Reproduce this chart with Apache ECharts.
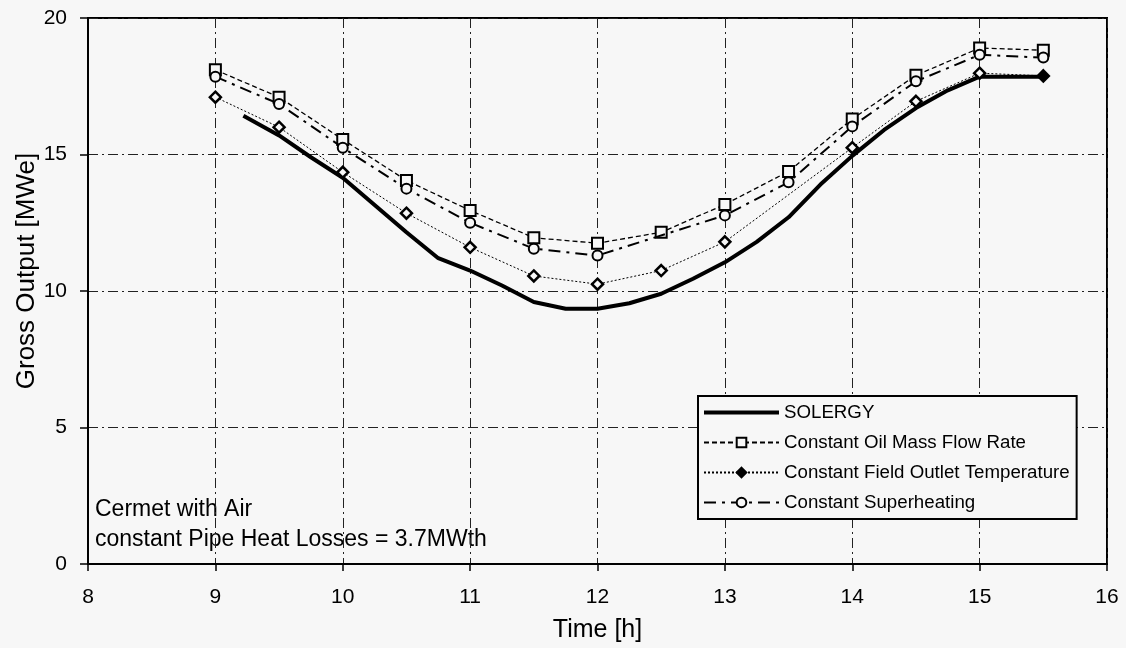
<!DOCTYPE html>
<html>
<head>
<meta charset="utf-8">
<script src="https://cdn.jsdelivr.net/npm/echarts@6/dist/echarts.min.js"></script>
<style>
  html, body { margin: 0; padding: 0; background: #f7f7f7; }
  #chart { width: 1126px; height: 648px; }
</style>
</head>
<body>
<div id="chart"></div>
<script>
  // values, [time h, gross output MWe]
  var solergy = [
    [9.22, 16.42], [9.5, 15.7], [9.75, 14.9], [10, 14.15], [10.25, 13.15], [10.5, 12.15],
    [10.75, 11.2], [11, 10.75], [11.25, 10.2], [11.5, 9.6], [11.75, 9.35], [12, 9.35],
    [12.25, 9.55], [12.5, 9.9], [12.75, 10.45], [13, 11.05], [13.25, 11.8], [13.5, 12.7],
    [13.75, 13.9], [14, 14.95], [14.25, 15.9], [14.5, 16.7], [14.75, 17.35], [15, 17.85],
    [15.5, 17.85]
  ];
  var oilMassFlow = [
    [9, 18.1], [9.5, 17.1], [10, 15.55], [10.5, 14.05], [11, 12.95], [11.5, 11.95],
    [12, 11.75], [12.5, 12.15], [13, 13.17], [13.5, 14.38], [14, 16.3], [14.5, 17.9],
    [15, 18.9], [15.5, 18.82]
  ];
  var fieldOutletTemp = [
    [9, 17.1], [9.5, 16.0], [10, 14.35], [10.5, 12.85], [11, 11.6], [11.5, 10.55],
    [12, 10.25], [12.5, 10.75], [13, 11.8], [14, 15.25], [14.5, 16.95], [15, 17.98],
    [15.5, 17.88]
  ];
  var superheating = [
    [9, 17.85], [9.5, 16.85], [10, 15.25], [10.5, 13.75], [11, 12.5], [11.5, 11.55],
    [12, 11.3], [13, 12.77], [13.5, 13.98], [14, 16.03], [14.5, 17.68], [15, 18.65],
    [15.5, 18.55]
  ];
  var seriesNames = ['SOLERGY', 'Constant Oil Mass Flow Rate', 'Constant Field Outlet Temperature', 'Constant Superheating'];
  var noteLines = ['Cermet with Air', 'constant Pipe Heat Losses = 3.7MWth'];

  var bg = '#f7f7f7';
  var font = '"Liberation Sans", Arial, sans-serif';
  var gridDash = { color: '#222', width: 1, type: [10, 4, 2, 4] };

  // last diamond is drawn filled
  var fieldData = fieldOutletTemp.map(function (p, i) {
    if (i === fieldOutletTemp.length - 1) {
      return { value: p, itemStyle: { color: '#000' } };
    }
    return p;
  });

  var myChart = echarts.init(document.getElementById('chart'));
  myChart.setOption({
    backgroundColor: bg,
    animation: false,
    textStyle: { fontFamily: font },
    grid: {
      left: 88, right: 19, top: 18, bottom: 84,
      show: true, borderColor: '#000', borderWidth: 2
    },
    xAxis: {
      type: 'value',
      min: 8, max: 16, interval: 1,
      name: 'Time [h]',
      nameLocation: 'middle',
      nameGap: 54,
      nameTextStyle: { color: '#000', fontSize: 25, fontFamily: font },
      axisLine: { lineStyle: { color: '#000', width: 2 } },
      axisTick: { show: true, length: 7, lineStyle: { color: '#000', width: 1.5 } },
      axisLabel: { color: '#000', fontSize: 21, margin: 23, fontFamily: font },
      splitLine: { show: true, lineStyle: gridDash }
    },
    yAxis: {
      type: 'value',
      min: 0, max: 20, interval: 5,
      axisLine: { show: true, lineStyle: { color: '#000', width: 2 } },
      axisTick: { show: true, length: 8, lineStyle: { color: '#000', width: 1.5 } },
      axisLabel: { color: '#000', fontSize: 21, margin: 21, fontFamily: font },
      splitLine: { show: true, lineStyle: gridDash }
    },
    legend: {
      orient: 'vertical',
      left: 698, top: 396,
      padding: [7, 7, 7, 5],
      backgroundColor: bg,
      borderColor: '#000',
      borderWidth: 2,
      itemWidth: 75,
      itemHeight: 12,
      itemGap: 11,
      textStyle: { color: '#000', fontSize: 18.7, fontFamily: font },
      data: [
        // thick bar for SOLERGY; the outer moves keep the path's box 75x12
        { name: seriesNames[0], icon: 'path://M0,0L0,0M0,4L75,4L75,8L0,8ZM75,12L75,12' },
        { name: seriesNames[1] },
        { name: seriesNames[2], itemStyle: { color: '#000' } },
        { name: seriesNames[3] }
      ]
    },
    graphic: [
      {
        type: 'text', x: 27, y: 271, rotation: Math.PI / 2,
        style: { text: 'Gross Output [MWe]', fill: '#000', font: '26px ' + font, align: 'center', verticalAlign: 'middle' }
      },
      {
        type: 'text', left: 95, top: 495,
        style: { text: noteLines.join('\n'), fill: '#000', font: '23px ' + font, lineHeight: 30 }
      }
    ],
    series: [
      {
        name: seriesNames[0],
        type: 'line',
        data: solergy,
        showSymbol: false,
        symbol: 'none',
        lineStyle: { color: '#000', width: 4 },
        itemStyle: { color: '#000' },
        z: 2
      },
      {
        name: seriesNames[2],
        type: 'line',
        data: fieldData,
        symbol: 'diamond',
        symbolSize: 11,
        lineStyle: { color: '#000', width: 1, type: [2, 2] },
        itemStyle: { color: bg, borderColor: '#000', borderWidth: 2.5 },
        z: 3
      },
      {
        name: seriesNames[1],
        type: 'line',
        data: oilMassFlow,
        symbol: 'rect',
        symbolSize: 11,
        lineStyle: { color: '#000', width: 1.3, type: [5, 3] },
        itemStyle: { color: bg, borderColor: '#000', borderWidth: 2 },
        z: 4
      },
      {
        name: seriesNames[3],
        type: 'line',
        data: superheating,
        symbol: 'circle',
        symbolSize: 10,
        lineStyle: { color: '#000', width: 2, type: [12, 6, 3, 6] },
        itemStyle: { color: bg, borderColor: '#000', borderWidth: 2 },
        z: 5
      }
    ]
  });
</script>
</body>
</html>
